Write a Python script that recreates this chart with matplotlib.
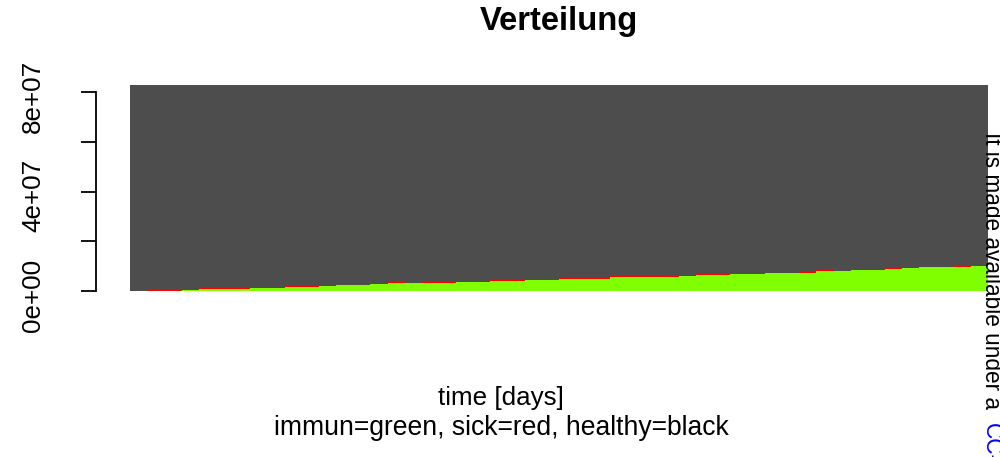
import numpy as np
import matplotlib.pyplot as plt
from matplotlib.transforms import ScaledTranslation

# total population and per-day counts (millions)
population = 83.0
immun = [0.0, 0.08, 0.2, 0.4, 0.8, 1.0, 1.0, 1.2, 1.4, 1.8,
         1.8, 2.0, 2.3, 2.3, 2.7, 3.1, 3.1, 3.4, 3.4, 3.8,
         3.8, 4.2, 4.2, 4.3, 4.6, 5.0, 5.0, 5.0, 5.8, 5.8,
         5.8, 5.8, 6.1, 6.5, 6.5, 6.9, 6.9, 7.3, 7.3, 7.4,
         8.0, 8.0, 8.4, 8.4, 8.8, 9.3, 9.6, 9.6, 9.8, 10.1]
sick = [0.0, 0.3, 0.4, 0.4, 0.4, 0.1, 0.1, 0.4, 0.1, 0.1,
        0.1, 0.4, 0.1, 0.1, 0.4, 0.4, 0.1, 0.4, 0.1, 0.1,
        0.4, 0.1, 0.4, 0.3, 0.1, 0.1, 0.1, 0.4, 0.4, 0.1,
        0.1, 0.1, 0.4, 0.4, 0.4, 0.1, 0.4, 0.1, 0.1, 0.1,
        0.4, 0.1, 0.1, 0.1, 0.4, 0.1, 0.1, 0.1, 0.4, 0.1]

immun = np.array(immun) * 1e6
sick = np.array(sick) * 1e6
healthy = population * 1e6 - immun - sick
days = np.arange(len(immun))

plt.rcParams['font.family'] = ['Liberation Sans', 'DejaVu Sans']

fig = plt.figure(figsize=(10, 4.57), dpi=100)
ax = fig.add_axes([0.096, 0.3452, 0.926, 0.4869])

kw = dict(width=1.0, align='edge', linewidth=0, antialiased=False)
ax.bar(days, immun, color='#7FFF00', **kw)
ax.bar(days, sick, bottom=immun, color='#FF0000', **kw)
ax.bar(days, healthy, bottom=immun + sick, color='#4D4D4D', **kw)

n = len(days)
top = population * 1e6
ax.set_xlim(-0.04 * n, 1.04 * n)
ax.set_ylim(-0.04 * top, 1.04 * top)

for s in ['top', 'right', 'bottom']:
    ax.spines[s].set_visible(False)
ax.spines['left'].set_bounds(0, 8e7)
ax.spines['left'].set_linewidth(1.3)
ax.set_xticks([])
ax.set_yticks([0, 2e7, 4e7, 6e7, 8e7])
ax.set_yticklabels(['0e+00', '', '4e+07', '', '8e+07'])
ax.tick_params(axis='y', length=10.8, width=1.3, labelsize=18.7, pad=26)
shift = ScaledTranslation(0, -4 / 100, fig.dpi_scale_trans)
for lab in ax.get_yticklabels():
    lab.set_rotation(90)
    lab.set_va('center')
    lab.set_transform(lab.get_transform() + shift)

fig.text(0.5585, 1 - 30 / 457, 'Verteilung', fontsize=23.6, fontweight='bold',
         ha='center', va='baseline')
fig.text(0.5005, 1 - 405 / 457, 'time [days]', fontsize=18.7,
         ha='center', va='baseline')
fig.text(0.5015, 1 - 435 / 457, 'immun=green, sick=red, healthy=black', fontsize=19.1,
         ha='center', va='baseline')

# watermark along the right edge
fig.text(0.985, 1 - 132 / 457, 'It is made available under a ', fontsize=16.3,
         rotation=-90, rotation_mode='anchor', ha='left', va='baseline')
fig.text(0.985, 1 - 423 / 457, 'CC-BY', fontsize=16.3, color='#0000FF',
         rotation=-90, rotation_mode='anchor', ha='left', va='baseline')

fig.savefig('out.png', dpi=100)
